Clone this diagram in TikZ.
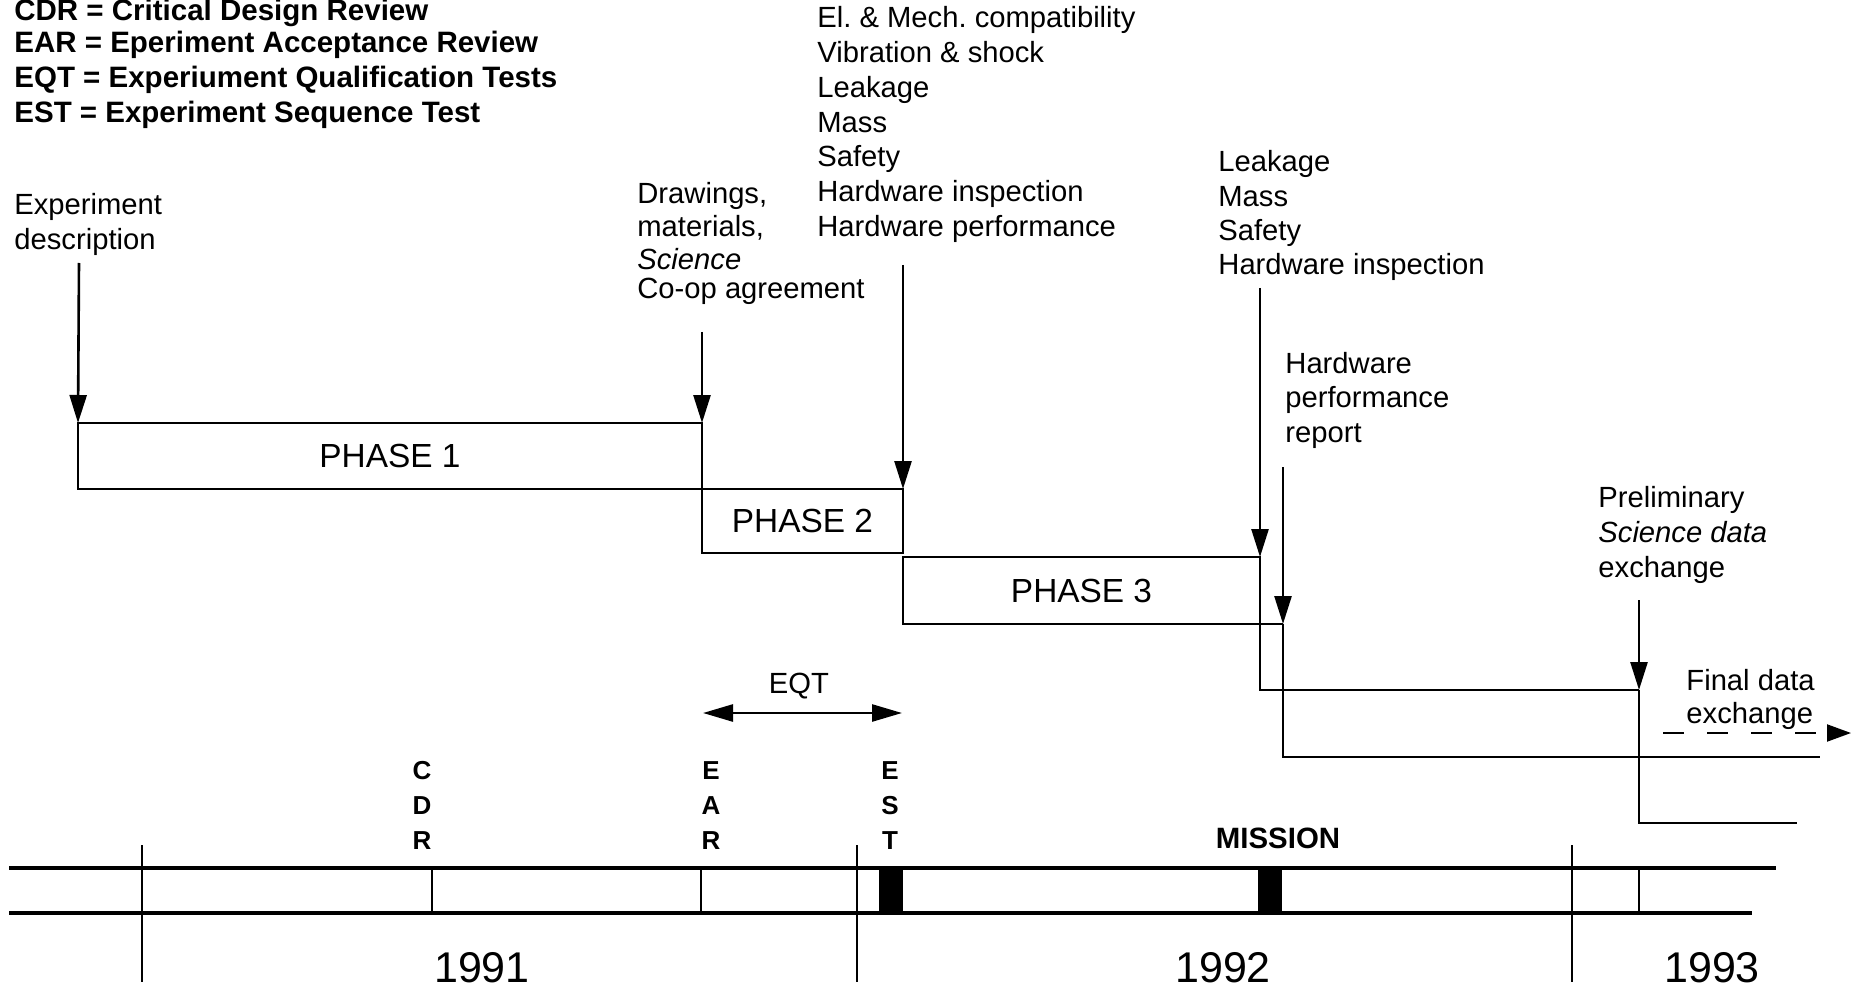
\documentclass[tikz,border=0pt]{standalone}
\usepackage{fontspec}
\setmainfont{Liberation Sans}
\usetikzlibrary{arrows.meta}

\tikzset{
  lbl/.style={anchor=base west, inner sep=0pt, font=\fontsize{14.6}{17}\selectfont},
  key/.style={anchor=base west, inner sep=0pt, font=\bfseries\fontsize{14.75}{17}\selectfont},
  phase/.style={draw, line width=1.3pt, inner sep=0pt, outer sep=0pt, font=\fontsize{16.7}{20}\selectfont},
  milestone/.style={anchor=south, inner sep=0pt, align=center, font=\bfseries\fontsize{13}{17.5}\selectfont},
  year/.style={anchor=base, inner sep=0pt, font=\fontsize{21.5}{26}\selectfont},
  arr/.style={line width=1.3pt, -{Triangle[length=14pt,width=8.5pt]}},
  box/.style={line width=1.3pt},
  tline/.style={line width=1.6pt},
  tickline/.style={line width=1pt}
}

\begin{document}
\begin{tikzpicture}[x=0.5pt, y=-0.5pt]
  \useasboundingbox (0,0) rectangle (1851,989);
  % legend
  \node[key] (key-1) at (14,21) {CDR = Critical Design Review};
  \foreach \txt [count=\i from 2] in {EAR = Eperiment Acceptance Review,
      EQT = Experiument Qualification Tests, EST = Experiment Sequence Test}
    \node[key] (key-\i) at (14,{18+34.7*(\i-1)}) {\txt};

  % inputs
  \foreach \txt [count=\i] in {Experiment, description}
    \node[lbl] (desc-\i) at (14,{215+35*(\i-1)}) {\txt};
  \foreach \txt/\y [count=\i] in {{Drawings,}/204, {materials,}/237, \textit{Science}/270, Co-op agreement/299}
    \node[lbl] (draw-\i) at (637,\y) {\txt};
  \foreach \txt [count=\i] in {El.\ \& Mech.\ compatibility, Vibration \& shock, Leakage, Mass, Safety,
      Hardware inspection, Hardware performance}
    \node[lbl] (test-\i) at (817,{28+34.7*(\i-1)}) {\txt};
  \foreach \txt [count=\i] in {Leakage, Mass, Safety, Hardware inspection}
    \node[lbl] (insp-\i) at (1218,{172+34.3*(\i-1)}) {\txt};
  \foreach \txt [count=\i] in {Hardware, performance, report}
    \node[lbl] (perf-\i) at (1285,{373+34.5*(\i-1)}) {\txt};
  \foreach \txt [count=\i] in {Preliminary, \textit{Science data}, exchange}
    \node[lbl] (prel-\i) at (1598,{507+35*(\i-1)}) {\txt};
  \foreach \txt [count=\i] in {Final data, exchange}
    \node[lbl] (fin-\i) at (1686,{690+33*(\i-1)}) {\txt};

  % phases
  \node[phase, minimum width=312pt, minimum height=33pt] (p1) at (390,456) {PHASE 1};
  \node[phase, minimum width=100.5pt, minimum height=32pt] (p2) at (802.5,521) {PHASE 2};
  \node[phase, minimum width=178.5pt, minimum height=33.5pt] (p3) at (1081.5,590.5) {PHASE 3};
  \coordinate (hpr) at (1283,624);
  \coordinate (pre) at (1639,690);
  \coordinate (s5) at (1820,757);
  \coordinate (s6) at (1797,823);
  \draw[box] (p3.south east) -- (hpr);
  \draw[box] (p3.north east) |- (pre);
  \draw[box] (hpr) |- (s5);
  \draw[box] (pre) |- (s6);

  % arrows into the phases
  \coordinate (in-desc) at (79,263);
  \coordinate (in-draw) at (702,332);
  \coordinate (in-test) at (903,265);
  \coordinate (in-insp) at (1260,288);
  \coordinate (in-perf) at (1283,467);
  \coordinate (in-prel) at (1639,600);
  \draw[arr] (in-desc) -- (p1.north west);
  \draw[arr] (in-draw) -- (p1.north east);
  \draw[arr] (in-test) -- (p2.north east);
  \draw[arr] (in-insp) -- (p3.north east);
  \draw[arr] (in-perf) -- (hpr);
  \draw[arr] (in-prel) -- (pre);
  \coordinate (fin-l) at (1663,733);
  \coordinate (fin-r) at (1851,733);
  \draw[line width=1pt, dash pattern=on 10.5pt off 11.5pt, -{Triangle[length=12pt,width=8.5pt]}] (fin-l) -- (fin-r);

  % EQT span
  \node[lbl, anchor=base] (eqt) at (799,693) {EQT};
  \coordinate (eqt-l) at (703,713);
  \coordinate (eqt-r) at (902,713);
  \draw[line width=1.3pt, {Triangle[length=15pt,width=8.5pt]}-{Triangle[length=15pt,width=8.5pt]}] (eqt-l) -- (eqt-r);

  % time line
  \draw[tline] (9,868) -- (1776,868);
  \draw[tline] (9,913) -- (1752,913);
  \foreach \x in {142,857,1572}
    \draw[tickline] (\x,845) -- (\x,982);
  \foreach \x in {432,701,1639}
    \draw[tickline] (\x,868) -- (\x,913);
  \fill (879,868) rectangle (903,913);
  \fill (1258,868) rectangle (1282,913);

  \node[milestone] (cdr) at (422,850) {C\\D\\R};
  \node[milestone] (ear) at (711,850) {E\\A\\R};
  \node[milestone] (est) at (890,850) {E\\S\\T};
  \node[anchor=base, inner sep=0pt, font=\bfseries\fontsize{14.7}{17}\selectfont] (mission) at (1278,848) {MISSION};

  \node[year] (y1991) at (482,982) {1991};
  \node[year] (y1992) at (1223,982) {1992};
  \node[year] (y1993) at (1712,982) {1993};
\end{tikzpicture}
\end{document}
